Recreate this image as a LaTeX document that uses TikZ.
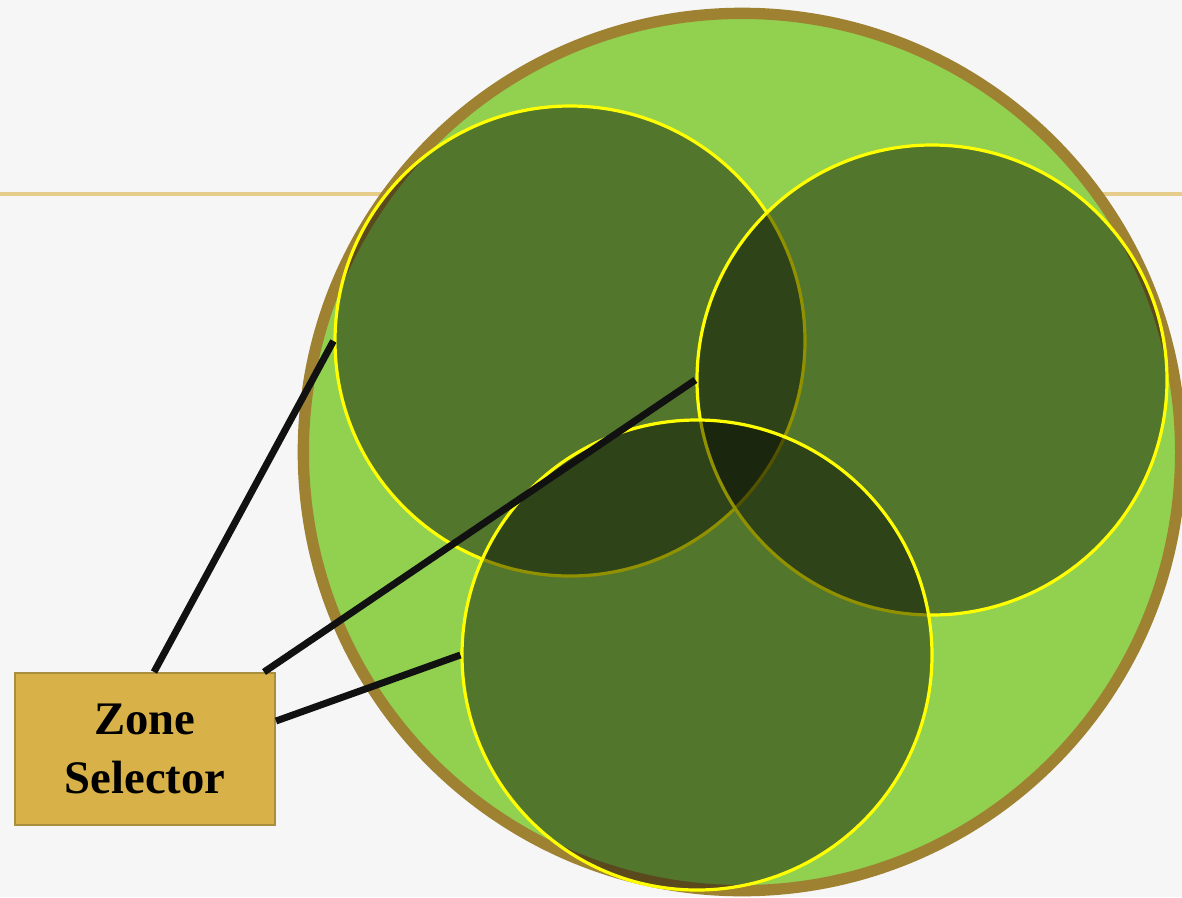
\documentclass[tikz,border=0pt]{standalone}
\usepackage{fontspec}
\setmainfont{Liberation Serif}
\begin{document}
\begin{tikzpicture}[x=0.75pt,y=-0.75pt,
  zone/.style={circle, inner sep=0pt, minimum size=352.5pt, fill=black, fill opacity=0.43, draw=zoneyellow, draw opacity=1, line width=2.4pt},
  connector/.style={draw=lineblack, line width=5.2pt},
  selbox/.style={rectangle, inner sep=0pt, minimum width=195pt, minimum height=114pt, fill=boxgold, draw=boxedge, line width=1.5pt, align=center, font=\fontsize{35}{44}\selectfont\bfseries}
]
\definecolor{bgcol}{HTML}{F6F6F6}
\definecolor{rulecol}{HTML}{E6CD8C}
\definecolor{bigfill}{HTML}{92D050}
\definecolor{bigedge}{HTML}{9E8232}
\definecolor{zoneyellow}{HTML}{FFFF00}
\definecolor{lineblack}{HTML}{111111}
\definecolor{boxgold}{HTML}{D8B148}
\definecolor{boxedge}{HTML}{A88F3E}
\fill[bgcol] (0,0) rectangle (1182,897);
\useasboundingbox (0,0) rectangle (1182,897);
\draw[rulecol, line width=3pt] (0,194) -- (1182,194);
\node[circle, inner sep=0pt, minimum size=658pt, fill=bigfill, draw=bigedge, line width=8.5pt] (big) at (742,452) {};
\node[zone] (tl) at (570,341) {};
\node[zone] (rt) at (932,380) {};
\node[zone] (bt) at (697,655) {};
\node[selbox] (zs) at (145,749) {Zone\\Selector};
\path (zs.north west) ++(140,0) coordinate (s1);
\path (zs.north west) ++(250,0) coordinate (s2);
\path (zs.north east) ++(0,49) coordinate (s3);
\draw[connector] (s1) -- (tl.west);
\draw[connector] (s2) -- (rt.west);
\draw[connector] (s3) -- (bt.west);
\end{tikzpicture}
\end{document}
